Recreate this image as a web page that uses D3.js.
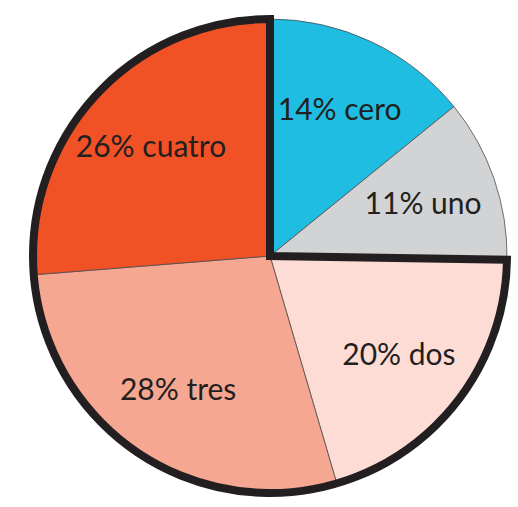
<!DOCTYPE html>
<html>
<head>
<meta charset="utf-8">
<script src="https://cdn.jsdelivr.net/npm/d3@7"></script>
<style>
  body { margin: 0; background: #fff; }
  text { font-family: Lato, "Open Sans", sans-serif; fill: #231f20; }
</style>
</head>
<body>
<svg id="chart" width="518" height="507"></svg>
<script>
// the data
const categories = ["cero", "uno", "dos", "tres", "cuatro"];
const percents = [14, 11, 20, 28, 26];
const colors = ["#1fbde1", "#d1d3d4", "#fddcd5", "#f6a791", "#f05125"];

let svg = d3.select("#chart"),
width = +svg.attr("width"),
height = +svg.attr("height");

const radius = 237;
const g = svg.append("g").attr("transform", "translate(270,256)");

const pie = d3.pie().sort(null).value(d => d.value);
const slices = pie(categories.map((c, i) => ({ name: c, value: percents[i], color: colors[i] })));

const arc = d3.arc().innerRadius(0).outerRadius(radius);
const labelArc = d3.arc().innerRadius(162).outerRadius(162);

// slices with a thin edge
g.selectAll("path.slice")
  .data(slices)
  .enter()
  .append("path")
  .attr("class", "slice")
  .attr("d", arc)
  .attr("fill", d => d.data.color)
  .attr("stroke", "#4d4d4f")
  .attr("stroke-width", 0.8);

// thick outline around everything except the first two slices (one quarter)
const outlined = slices.filter((d, i) => i >= 2);
g.append("path")
  .attr("d", arc({ startAngle: outlined[0].startAngle, endAngle: 2 * Math.PI }))
  .attr("fill", "none")
  .attr("stroke", "#231f20")
  .attr("stroke-width", 8)
  .attr("stroke-linejoin", "miter");

// labels
g.selectAll("text")
  .data(slices)
  .enter()
  .append("text")
  .attr("transform", d => "translate(" + labelArc.centroid(d) + ")")
  .attr("text-anchor", "middle")
  .attr("dy", "0.35em")
  .attr("font-size", 30)
  .text(d => d.data.value + "% " + d.data.name);
</script>
</body>
</html>
